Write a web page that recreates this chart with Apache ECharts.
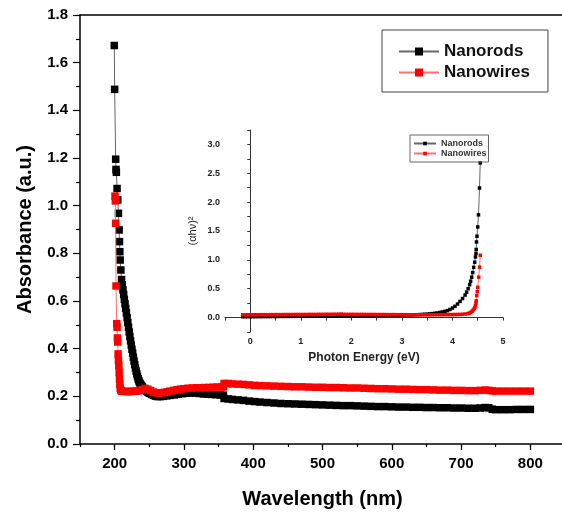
<!DOCTYPE html>
<html>
<head>
<meta charset="utf-8">
<script src="https://cdn.jsdelivr.net/npm/echarts@6/dist/echarts.min.js"></script>
<style>
  html, body { margin: 0; padding: 0; background: #fff; }
  #chart { width: 562px; height: 512px; }
</style>
</head>
<body>
<div id="chart"></div>
<script>
// UV-Vis absorbance spectra: [wavelength (nm), absorbance (a.u.)]
const nanorodsUV = [
  [199.5,1.672],[200,1.488],[201.5,1.195],[202,1.152],[202.5,1.140],[203.5,1.072],[204.5,1.024],[205.5,0.968],
  [206.5,0.898],[207,0.849],[207.5,0.807],[208,0.772],[209,0.730],[210,0.690],[211,0.668],[212,0.647],
  [213,0.627],[214,0.607],[215,0.588],[216,0.569],[217,0.550],[218,0.530],[219,0.510],[220,0.490],
  [221,0.470],[222,0.451],[223,0.433],[224,0.415],[225,0.398],[226,0.381],[227,0.364],[228,0.348],
  [229,0.333],[230,0.319],[231,0.306],[232,0.294],[233,0.283],[234,0.273],[235,0.265],[236,0.258],
  [237,0.252],[238,0.247],[239,0.243],[240,0.239],[242,0.233],[244,0.227],[246,0.222],[248,0.217],
  [250,0.213],[253,0.208],[256,0.204],[259,0.201],[262,0.199],[266,0.199],[270,0.200],[275,0.202],
  [280,0.204],[286,0.206],[292,0.209],[298,0.211],[304,0.213],[310,0.214],[316,0.214],[322,0.212],
  [328,0.210],[334,0.209],[340,0.208],[346,0.207],[352,0.206],[357,0.205],[358,0.191],[364,0.189],
  [370,0.187],[378,0.185],[386,0.183],[394,0.180],[402,0.178],[410,0.176],[420,0.174],[430,0.172],
  [440,0.170],[450,0.169],[460,0.168],[470,0.167],[480,0.166],[490,0.165],[500,0.164],[510,0.163],
  [520,0.162],[530,0.161],[540,0.161],[550,0.160],[560,0.159],[570,0.158],[580,0.157],[590,0.157],
  [600,0.156],[610,0.155],[620,0.155],[630,0.154],[640,0.154],[650,0.153],[660,0.153],[670,0.152],
  [680,0.152],[690,0.151],[700,0.151],[710,0.150],[720,0.150],[728,0.151],[735,0.153],[740,0.152],
  [745,0.146],[750,0.144],[760,0.144],[770,0.144],[780,0.145],[790,0.145],[800,0.145]
];

const nanowiresUV = [
  [200.5,1.040],[201,1.020],[201.5,0.926],[202,0.663],[203,0.505],[203.5,0.490],[204,0.445],[204.5,0.428],
  [205,0.378],[205.5,0.350],[206,0.330],[206.5,0.300],[207,0.272],[207.5,0.250],[208,0.234],[209,0.225],
  [210,0.222],[213,0.221],[216,0.220],[219,0.220],[222,0.220],[225,0.221],[228,0.221],[231,0.222],
  [234,0.223],[237,0.225],[240,0.228],[244,0.233],[248,0.230],[252,0.224],[256,0.218],[260,0.215],
  [264,0.214],[268,0.215],[272,0.217],[276,0.219],[280,0.222],[285,0.225],[290,0.228],[295,0.230],
  [300,0.232],[306,0.234],[312,0.235],[318,0.236],[324,0.236],[330,0.237],[336,0.237],[342,0.238],
  [348,0.239],[354,0.239],[357,0.240],[358,0.254],[364,0.254],[370,0.252],[378,0.251],[386,0.250],
  [394,0.248],[402,0.246],[410,0.245],[420,0.244],[430,0.243],[440,0.242],[450,0.241],[460,0.240],
  [470,0.240],[480,0.239],[490,0.238],[500,0.238],[510,0.237],[520,0.237],[530,0.236],[540,0.235],
  [550,0.235],[560,0.234],[570,0.233],[580,0.232],[590,0.232],[600,0.231],[610,0.230],[620,0.230],
  [630,0.229],[640,0.228],[650,0.228],[660,0.227],[670,0.226],[680,0.226],[690,0.225],[700,0.225],
  [710,0.224],[720,0.224],[728,0.225],[735,0.226],[740,0.225],[745,0.223],[750,0.222],[760,0.222],
  [770,0.222],[780,0.222],[790,0.222],[800,0.222]
];

// Tauc plot (inset): [photon energy (eV), (αhν)²]
const nanorodsTauc = [
  [-0.15,0.015],[-0.1,0.015],[-0.05,0.016],[0,0.016],[0.05,0.016],[0.1,0.017],[0.15,0.017],[0.2,0.017],
  [0.25,0.018],[0.3,0.018],[0.35,0.018],[0.4,0.019],[0.45,0.019],[0.5,0.019],[0.55,0.020],[0.6,0.020],
  [0.65,0.020],[0.7,0.021],[0.75,0.021],[0.8,0.021],[0.85,0.022],[0.9,0.022],[0.95,0.022],[1.0,0.023],
  [1.05,0.023],[1.1,0.023],[1.15,0.024],[1.2,0.024],[1.25,0.024],[1.3,0.025],[1.35,0.025],[1.4,0.026],
  [1.45,0.026],[1.5,0.026],[1.55,0.027],[1.6,0.027],[1.65,0.028],[1.7,0.028],[1.75,0.029],[1.8,0.029],
  [1.85,0.030],[1.9,0.030],[1.95,0.031],[2.0,0.031],[2.05,0.032],[2.1,0.032],[2.15,0.033],[2.2,0.033],
  [2.25,0.036],[2.3,0.034],[2.35,0.035],[2.4,0.035],[2.45,0.036],[2.5,0.036],[2.55,0.037],[2.6,0.037],
  [2.65,0.038],[2.7,0.038],[2.75,0.039],[2.8,0.039],[2.85,0.040],[2.9,0.041],[2.95,0.041],[3.0,0.042],
  [3.05,0.043],[3.1,0.044],[3.15,0.045],[3.2,0.046],[3.25,0.048],[3.3,0.050],[3.35,0.052],[3.4,0.054],
  [3.45,0.057],[3.5,0.060],[3.55,0.064],[3.6,0.068],[3.65,0.074],[3.7,0.080],[3.75,0.088],[3.8,0.097],
  [3.85,0.108],[3.9,0.120],[3.95,0.140],[4.0,0.165],[4.05,0.195],[4.1,0.235],[4.15,0.280],[4.2,0.330],
  [4.25,0.390],[4.28,0.440],[4.31,0.500],[4.34,0.570],[4.36,0.630],[4.38,0.700],[4.40,0.780],[4.42,0.870],
  [4.44,0.960],[4.455,1.050],[4.465,1.110],[4.47,1.180],[4.475,1.310],[4.485,1.410],[4.50,1.570],
  [4.515,1.780],[4.535,2.245],[4.55,2.680]
];

const nanowiresTauc = [
  [-0.15,0.048],[-0.1,0.048],[-0.05,0.049],[0,0.049],[0.05,0.049],[0.1,0.049],[0.15,0.050],[0.2,0.050],
  [0.25,0.050],[0.3,0.050],[0.35,0.050],[0.4,0.051],[0.45,0.051],[0.5,0.051],[0.55,0.051],[0.6,0.051],
  [0.65,0.052],[0.7,0.052],[0.75,0.052],[0.8,0.052],[0.85,0.052],[0.9,0.053],[0.95,0.053],[1.0,0.053],
  [1.05,0.053],[1.1,0.053],[1.15,0.054],[1.2,0.054],[1.25,0.054],[1.3,0.054],[1.35,0.055],[1.4,0.055],
  [1.45,0.055],[1.5,0.056],[1.55,0.056],[1.6,0.056],[1.65,0.057],[1.7,0.057],[1.75,0.058],[1.8,0.060],
  [1.85,0.056],[1.9,0.055],[1.95,0.055],[2.0,0.055],[2.05,0.055],[2.1,0.054],[2.15,0.054],[2.2,0.054],
  [2.25,0.054],[2.3,0.053],[2.35,0.053],[2.4,0.053],[2.45,0.053],[2.5,0.052],[2.55,0.052],[2.6,0.052],
  [2.65,0.052],[2.7,0.051],[2.75,0.051],[2.8,0.051],[2.85,0.051],[2.9,0.050],[2.95,0.050],[3.0,0.050],
  [3.05,0.050],[3.1,0.050],[3.15,0.049],[3.2,0.049],[3.25,0.049],[3.3,0.049],[3.35,0.049],[3.4,0.049],
  [3.45,0.049],[3.5,0.049],[3.55,0.049],[3.6,0.049],[3.65,0.050],[3.7,0.050],[3.75,0.050],[3.8,0.050],
  [3.85,0.051],[3.9,0.051],[3.95,0.052],[4.0,0.052],[4.05,0.053],[4.1,0.054],[4.15,0.055],[4.2,0.057],
  [4.25,0.061],[4.3,0.068],[4.33,0.076],[4.36,0.090],[4.39,0.110],[4.41,0.130],[4.43,0.155],[4.445,0.180],
  [4.455,0.210],[4.465,0.250],[4.47,0.290],[4.48,0.380],[4.49,0.450],[4.50,0.524],[4.52,0.700],
  [4.536,0.874],[4.55,1.080]
];

const seriesNames = ['Nanorods', 'Nanowires'];
const wavelengthMajorTicks = [200, 300, 400, 500, 600, 700, 800];

const FONT = "'Liberation Sans', Arial, sans-serif";
const near = (v, step) => Math.abs(v / step - Math.round(v / step)) < 1e-6;

const chart = echarts.init(document.getElementById('chart'), null, { renderer: 'canvas' });

const axisBlack = { lineStyle: { color: '#000', width: 1.5 } };
const insetLine = { lineStyle: { color: '#333', width: 1 } };

chart.setOption({
  animation: false,
  backgroundColor: '#fff',
  grid: [
    // the main frame runs a few pixels past the right edge of the canvas
    { left: 80, top: 15, width: 485, bottom: 68, outerBoundsMode: 'none' },
    { left: 225, top: 130, right: 59, bottom: 180, outerBoundsMode: 'none' }
  ],
  legend: [
    {
      data: seriesNames, orient: 'vertical', left: 382, top: 30,
      itemWidth: 40, itemHeight: 10, itemGap: 4, itemTextGap: 5,
      padding: [13, 18, 11, 16],
      borderColor: '#444', borderWidth: 1,
      textStyle: { fontFamily: FONT, fontWeight: 'bold', fontSize: 17, color: '#111' }
    },
    {
      data: seriesNames, orient: 'vertical', left: 410, top: 135,
      itemWidth: 22, itemHeight: 4.5, itemGap: 1, itemTextGap: 3,
      padding: [4, 2, 4, 3],
      borderColor: '#666', borderWidth: 1,
      textStyle: { fontFamily: FONT, fontWeight: 'bold', fontSize: 9, color: '#333' }
    }
  ],
  xAxis: [
    {
      type: 'value', gridIndex: 0, position: 'bottom', min: 150, max: 850, interval: 50,
      axisLine: axisBlack,
      axisTick: { length: 3, lineStyle: { color: '#000', width: 1.2 } },
      axisLabel: {
        margin: 12, fontFamily: FONT, fontWeight: 'bold', fontSize: 15, color: '#000',
        formatter: v => near(v, 100) ? String(v) : ''
      },
      splitLine: { show: false },
      name: 'Wavelength (nm)', nameLocation: 'middle', nameGap: 45,
      nameTextStyle: { fontFamily: FONT, fontWeight: 'bold', fontSize: 20, color: '#000' }
    },
    {
      type: 'value', gridIndex: 0, position: 'bottom', min: 150, max: 850,
      axisLine: { show: false },
      axisTick: { length: 6, customValues: wavelengthMajorTicks, lineStyle: { color: '#000', width: 1.2 } },
      axisLabel: { show: false },
      splitLine: { show: false }
    },
    {
      type: 'value', gridIndex: 0, position: 'top', min: 150, max: 850,
      axisLine: axisBlack, axisTick: { show: false }, axisLabel: { show: false }, splitLine: { show: false }
    },
    {
      type: 'value', gridIndex: 1, position: 'bottom', min: -0.5, max: 5, interval: 0.5,
      axisLine: insetLine,
      axisTick: { length: 3, lineStyle: { color: '#333' } },
      axisLabel: {
        margin: 5, fontFamily: FONT, fontWeight: 'bold', fontSize: 9, color: '#222',
        formatter: v => near(v, 1) ? String(Math.round(v)) : ''
      },
      splitLine: { show: false },
      name: 'Photon Energy (eV)', nameLocation: 'middle', nameGap: 20,
      nameTextStyle: { fontFamily: FONT, fontWeight: 'bold', fontSize: 12, color: '#222' }
    }
  ],
  yAxis: [
    {
      type: 'value', gridIndex: 0, min: 0, max: 1.8, interval: 0.2,
      axisLine: axisBlack,
      axisTick: { length: 7, lineStyle: { color: '#000', width: 1.2 } },
      minorTick: { show: true, splitNumber: 2, length: 4, lineStyle: { color: '#000', width: 1.2 } },
      axisLabel: {
        margin: 12, fontFamily: FONT, fontWeight: 'bold', fontSize: 15, color: '#000',
        formatter: v => v.toFixed(1)
      },
      splitLine: { show: false }, minorSplitLine: { show: false },
      name: 'Absorbance (a.u.)', nameLocation: 'middle', nameGap: 45,
      nameTextStyle: { fontFamily: FONT, fontWeight: 'bold', fontSize: 20, color: '#000' }
    },
    {
      type: 'value', gridIndex: 1, min: -0.25, max: 3.25, interval: 0.25,
      axisLine: insetLine,
      axisTick: { length: 3, lineStyle: { color: '#333' } },
      axisLabel: {
        margin: 5, fontFamily: FONT, fontWeight: 'bold', fontSize: 9, color: '#222',
        formatter: v => near(v, 0.5) ? v.toFixed(1) : ''
      },
      splitLine: { show: false },
      name: '(αhν)²', nameLocation: 'middle', nameGap: 27,
      nameTextStyle: { fontFamily: FONT, fontSize: 11, color: '#222' }
    }
  ],
  series: [
    {
      name: 'Nanorods', type: 'line', xAxisIndex: 0, yAxisIndex: 0, data: nanorodsUV,
      symbol: 'rect', symbolSize: 7.5, showAllSymbol: true,
      itemStyle: { color: '#000' }, lineStyle: { color: '#666', width: 1 }, z: 2
    },
    {
      name: 'Nanowires', type: 'line', xAxisIndex: 0, yAxisIndex: 0, data: nanowiresUV,
      symbol: 'rect', symbolSize: 7.5, showAllSymbol: true,
      itemStyle: { color: '#ff0000' }, lineStyle: { color: '#ff7070', width: 1 }, z: 3
    },
    {
      name: 'Nanorods', type: 'line', xAxisIndex: 3, yAxisIndex: 1, data: nanorodsTauc,
      symbol: 'rect', symbolSize: 3.5, showAllSymbol: true,
      itemStyle: { color: '#000' }, lineStyle: { color: '#666', width: 1 }, z: 2
    },
    {
      name: 'Nanowires', type: 'line', xAxisIndex: 3, yAxisIndex: 1, data: nanowiresTauc,
      symbol: 'rect', symbolSize: 3.5, showAllSymbol: true,
      itemStyle: { color: '#ff0000' }, lineStyle: { color: '#ff7070', width: 1 }, z: 3
    }
  ]
});
</script>
</body>
</html>
